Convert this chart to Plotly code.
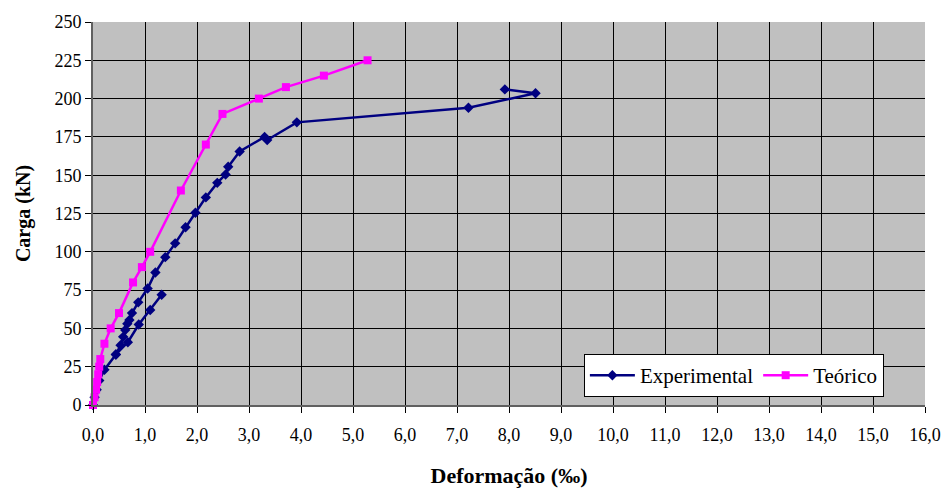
import plotly.graph_objects as go

# Experimental series (None separates the first loading branch from the second)
exp_x = [0.0, 0.03, 0.07, 0.12, 0.22, 0.44, 0.67, 0.88, 1.10, 1.32,
         None,
         0.44, 0.53, 0.58, 0.62, 0.66, 0.70, 0.75, 0.87, 1.05, 1.20, 1.39, 1.58,
         1.78, 1.97, 2.17, 2.39, 2.55, 2.60, 2.82, 3.30, 3.35, 3.92, 7.22, 8.51, 7.92]
exp_y = [0, 5, 10, 16, 23, 33, 41, 52.5, 62, 72,
         None,
         33, 39, 44.5, 49, 53, 55.5, 60, 67, 76, 86.5, 96.5, 105.5,
         116, 125.5, 135.5, 145, 150.5, 155.5, 165.5, 175, 173, 184.5, 194, 203.5, 206]

# Theoretical series
teo_x = [0.0, 0.03, 0.06, 0.08, 0.10, 0.12, 0.14, 0.22, 0.34, 0.50, 0.77, 0.94, 1.10,
         1.69, 2.17, 2.49, 3.19, 3.71, 4.44, 5.28]
teo_y = [0, 5, 10, 15, 20, 25, 30, 40, 50, 60, 80, 90, 100,
         140, 170, 190, 200, 207.5, 215, 225]

x_tickvals = list(range(0, 17))
y_tickvals = list(range(0, 251, 25))

fig = go.Figure()
fig.add_trace(go.Scatter(
    x=exp_x, y=exp_y, mode="lines+markers", name="Experimental",
    line=dict(color="#000080", width=2.5),
    marker=dict(symbol="diamond", size=8, color="#000080"),
    connectgaps=False, cliponaxis=False))
fig.add_trace(go.Scatter(
    x=teo_x, y=teo_y, mode="lines+markers", name="Teórico",
    line=dict(color="#FF00FF", width=2.5),
    marker=dict(symbol="square", size=8, color="#FF00FF"),
    cliponaxis=False))

font_family = "Liberation Serif"

fig.update_layout(
    width=946, height=488,
    margin=dict(l=93, r=21, t=22, b=83, autoexpand=False),
    paper_bgcolor="white",
    plot_bgcolor="#C0C0C0",
    separators=",.",
    font=dict(family=font_family, size=18, color="black"),
    showlegend=True,
    legend=dict(
        orientation="h", x=0.59, y=0.133, xanchor="left", yanchor="top",
        bgcolor="white", bordercolor="black", borderwidth=1,
        font=dict(family=font_family, size=21, color="black"),
        itemwidth=45, tracegroupgap=0,
    ),
)
fig.update_xaxes(
    range=[0, 16], tickvals=x_tickvals, tickformat=".1f",
    showgrid=True, gridcolor="black", gridwidth=1,
    showline=True, linecolor="#606060", linewidth=2,
    ticks="outside", ticklen=6, tickcolor="black",
    ticklabelstandoff=6,
    zeroline=False, automargin=False,
    title=dict(text="<b>Deformação (‰)</b>", font=dict(family=font_family, size=22), standoff=24),
)
fig.update_yaxes(
    range=[0, 250], tickvals=y_tickvals,
    showgrid=True, gridcolor="black", gridwidth=1,
    showline=True, linecolor="#606060", linewidth=2,
    ticks="outside", ticklen=6, tickcolor="black",
    zeroline=False, automargin=False,
    title=dict(text="<b>Carga (kN)</b>", font=dict(family=font_family, size=20), standoff=18),
)

fig.write_html("out.html")
